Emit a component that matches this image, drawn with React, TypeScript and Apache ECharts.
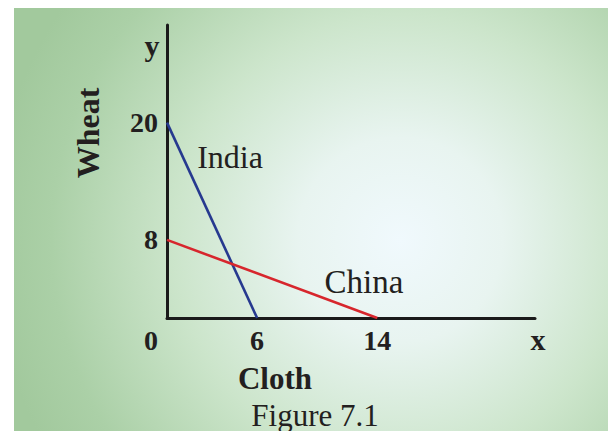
import React, { useEffect, useRef } from "react";
import * as echarts from "echarts";

const indiaPoints: [number, number][] = [[0, 20], [6, 0]];
const chinaPoints: [number, number][] = [[0, 8], [14, 0]];
const xTickLabels = [0, 6, 14];
const yTickLabels = [8, 20];
const seriesNames = ["India", "China"];

const FONT = "Liberation Serif";
const TXT = "#231f20";

export default function App() {
  const ref = useRef<HTMLDivElement>(null);
  useEffect(() => {
    if (!ref.current) return;
    const chart = echarts.init(ref.current, null, { renderer: "svg" });
    const bg = new echarts.graphic.RadialGradient(
      400,
      240,
      410,
      [
        { offset: 0, color: "#f0f9fd" },
        { offset: 0.25, color: "#e8f4f0" },
        { offset: 0.55, color: "#cce5cb" },
        { offset: 0.85, color: "#abd0a7" },
        { offset: 1, color: "#a2c99d" },
      ],
      true
    );
    const tickStyle = {
      fontFamily: FONT,
      fontWeight: "bold",
      fontSize: 28,
      color: TXT,
    };
    chart.setOption({
      animation: false,
      backgroundColor: "#ffffff",
      grid: { left: 167, top: 25, right: 73, bottom: 113, containLabel: false },
      xAxis: {
        type: "value",
        min: 0,
        max: 24.5,
        axisLine: { show: true, lineStyle: { color: "#1a1a1a", width: 3 } },
        axisTick: { show: false },
        splitLine: { show: false },
        axisLabel: {
          customValues: xTickLabels,
          margin: 8,
          ...tickStyle,
          formatter: (v: number) => (v === 0 ? "{z|0}" : String(v)),
          rich: {
            z: { ...tickStyle, padding: [0, 32, 0, 0] },
          },
        },
      },
      yAxis: {
        type: "value",
        min: 0,
        max: 30,
        axisLine: { show: true, lineStyle: { color: "#1a1a1a", width: 3 } },
        axisTick: { show: false },
        splitLine: { show: false },
        axisLabel: {
          customValues: yTickLabels,
          margin: 9,
          ...tickStyle,
        },
      },
      series: [
        {
          name: seriesNames[0],
          type: "line",
          data: indiaPoints,
          symbol: "none",
          lineStyle: { color: "#26398f", width: 2.6 },
          z: 3,
        },
        {
          name: seriesNames[1],
          type: "line",
          data: chinaPoints,
          symbol: "none",
          lineStyle: { color: "#d7262d", width: 2.6 },
          z: 4,
        },
      ],
      graphic: [
        {
          type: "rect",
          z: -100,
          silent: true,
          shape: { x: 14, y: 8, width: 594, height: 423 },
          style: { fill: bg },
        },
        {
          type: "text",
          x: 152,
          y: 45,
          style: { text: "y", fontFamily: FONT, fontWeight: "bold", fontSize: 30, fill: TXT, align: "center", verticalAlign: "middle" },
        },
        {
          type: "text",
          x: 538,
          y: 339,
          style: { text: "x", fontFamily: FONT, fontWeight: "bold", fontSize: 30, fill: TXT, align: "center", verticalAlign: "middle" },
        },
        {
          type: "text",
          x: 88,
          y: 133,
          rotation: Math.PI / 2,
          style: { text: "Wheat", fontFamily: FONT, fontWeight: "bold", fontSize: 32, fill: TXT, align: "center", verticalAlign: "middle" },
        },
        {
          type: "text",
          x: 275,
          y: 378,
          style: { text: "Cloth", fontFamily: FONT, fontWeight: "bold", fontSize: 31, fill: TXT, align: "center", verticalAlign: "middle" },
        },
        {
          type: "text",
          x: 230,
          y: 157,
          style: { text: seriesNames[0], fontFamily: FONT, fontSize: 32, fill: TXT, align: "center", verticalAlign: "middle" },
        },
        {
          type: "text",
          x: 364,
          y: 282,
          style: { text: seriesNames[1], fontFamily: FONT, fontSize: 33, fill: TXT, align: "center", verticalAlign: "middle" },
        },
        {
          type: "text",
          x: 315,
          y: 415,
          style: { text: "Figure 7.1", fontFamily: FONT, fontSize: 31, fill: TXT, align: "center", verticalAlign: "middle" },
        },
      ],
    });
    return () => chart.dispose();
  }, []);
  return (
    <div
      ref={ref}
      style={{ position: "absolute", left: 0, top: 0, width: 608, height: 431 }}
    />
  );
}
